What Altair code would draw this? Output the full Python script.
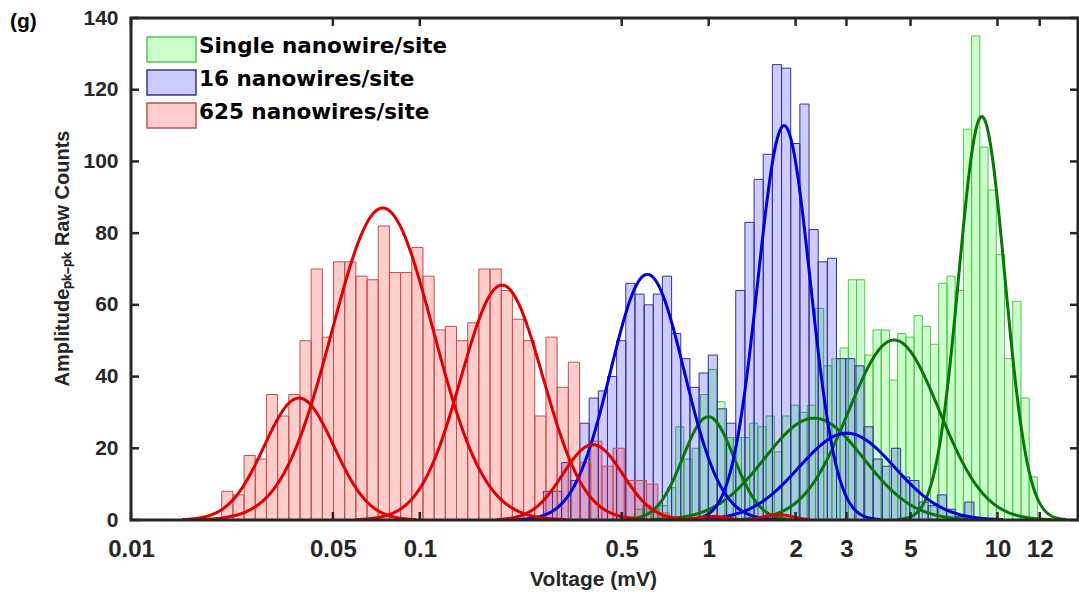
import altair as alt
import numpy as np
import pandas as pd

# ---------------- data ----------------
series_names = ["Single nanowire/site", "16 nanowires/site", "625 nanowires/site"]

# histogram bins: left edge of first bin (mV), bin width (decades), raw counts
single_first_edge = 0.519
single_bin_decades = 0.02846
single_counts = [1, 3, 4, 3, 4, 9, 26, 17, 20, 35, 42, 33, 23, 23, 23, 27, 26, 29, 19, 29,
                 32, 30, 32, 59, 43, 45, 48, 67, 67, 46, 53, 53, 39, 52, 51, 57, 54, 49, 66, 68,
                 64, 109, 135, 104, 92, 74, 45, 61, 34, 12]

sixteen_first_edge = 0.2677
sixteen_bin_decades = 0.03172
sixteen_counts = [8, 8, 16, 11, 27, 34, 36, 40, 50, 66, 63, 60, 63, 68, 52, 45, 37, 41, 46, 31,
                  27, 64, 83, 95, 102, 127, 126, 105, 116, 81, 72, 73, 45, 45, 43, 26, 17, 15, 20, 12,
                  11, 5, 4, 7, 3, 1, 5]

n625_first_edge = 0.02061
n625_bin_decades = 0.03871
n625_counts = [8, 7, 18, 17, 35, 29, 35, 50, 70, 51, 72, 72, 68, 67, 82, 69, 69, 76, 68, 53,
               54, 50, 55, 70, 70, 64, 56, 50, 29, 51, 37, 44, 16, 22, 15, 20, 11, 11, 10, 2, 1]

# Gaussian fits in log10(V): (centre mV, sigma in decades, peak count)
single_fits = [(0.998, 0.0883, 28.8), (2.317, 0.171, 28.4), (4.385, 0.157, 50.2), (8.823, 0.0796, 112.5)]
sixteen_fits = [(0.6135, 0.1274, 68.5), (1.824, 0.0907, 110.0), (3.008, 0.166, 24.2)]
n625_fits = [(0.03817, 0.1205, 34.0), (0.0744, 0.1755, 87.0), (0.1926, 0.142, 65.5),
             (0.397, 0.104, 21.0), (1.03, 0.05, 1.0), (1.74, 0.05, 1.5)]

x_ticks = [0.01, 0.05, 0.1, 0.5, 1, 2, 3, 5, 10, 14]
x_tick_labels = ["0.01", "0.05", "0.1", "0.5", "1", "2", "3", "5", "10", "12"]
y_ticks = [0, 20, 40, 60, 80, 100, 120, 140]
x_domain = [0.01, 19]
y_domain = [0, 140]

# ---------------- styling ----------------
fill_colors = ["#00ff00", "#0000ff", "#ff0000"]
edge_colors = ["#4ec94e", "#33339a", "#c05050"]
legend_fills = ["#ccffcc", "#ccccff", "#ffcccc"]
curve_colors = ["#0a760a", "#0000dd", "#e00000"]
AX = "#262626"
W, H = 947, 502

# ---------------- tables ----------------
rows = []
for name, first, w, counts in [
    (series_names[0], single_first_edge, single_bin_decades, single_counts),
    (series_names[1], sixteen_first_edge, sixteen_bin_decades, sixteen_counts),
    (series_names[2], n625_first_edge, n625_bin_decades, n625_counts),
]:
    l0 = np.log10(first)
    for i, c in enumerate(counts):
        rows.append({"series": name, "x0": 10 ** (l0 + i * w), "x1": 10 ** (l0 + (i + 1) * w), "count": c})
bars_df = pd.DataFrame(rows)

grid = np.linspace(np.log10(x_domain[0]), np.log10(x_domain[1]), 1500)
crow = []
for name, fits in [(series_names[0], single_fits), (series_names[1], sixteen_fits), (series_names[2], n625_fits)]:
    for k, (c, s, a) in enumerate(fits):
        yv = a * np.exp(-0.5 * ((grid - np.log10(c)) / s) ** 2)
        for lx, v in zip(grid, yv):
            if v > 0.12:
                crow.append({"series": name, "fit": f"{name}-{k}", "x": 10 ** lx, "y": v})
curves_df = pd.DataFrame(crow)

label_expr = "".join(
    f"abs(datum.value/{v} - 1) < 1e-6 ? '{l}' : " for v, l in zip(x_ticks, x_tick_labels)
) + "''"

xscale = alt.Scale(type="log", domain=x_domain, nice=False)
yscale = alt.Scale(domain=y_domain, nice=False, zero=True)

xaxis = alt.Axis(
    values=x_ticks, labelExpr=label_expr, ticks=False, domain=False, grid=False,
    labelFont="Liberation Sans", labelFontSize=24, labelFontWeight="bold", labelColor=AX,
    labelPadding=17, labelFlush=False, labelOverlap=False,
    title="Voltage (mV)", titleFont="Liberation Sans", titleFontSize=21, titleFontWeight="bold",
    titleColor=AX, titleX=462, titleY=59, titleBaseline="middle",
)
yaxis = alt.Axis(
    values=y_ticks, ticks=False, domain=False, grid=False,
    labelFont="Liberation Sans", labelFontSize=21, labelFontWeight="bold", labelColor=AX,
    labelPadding=13,
    title="Amplitudeₚₖ₋ₚₖ Raw Counts", titleFont="Liberation Sans", titleFontSize=20,
    titleFontWeight="bold", titleColor=AX, titleX=-69, titleY=240, titleBaseline="middle",
    titleAngle=270,
)

X = lambda f: alt.X(f, type="quantitative", scale=xscale, axis=xaxis)
Y = lambda f: alt.Y(f, type="quantitative", scale=yscale, axis=yaxis)

bars = alt.Chart(bars_df).mark_rect(fillOpacity=0.2, strokeWidth=1, clip=True).encode(
    x=X("x0"), x2="x1", y=Y("count"), y2=alt.datum(0),
    fill=alt.Fill("series:N", scale=alt.Scale(domain=series_names, range=fill_colors), legend=None),
    stroke=alt.Stroke("series:N", scale=alt.Scale(domain=series_names, range=edge_colors), legend=None),
)

curves = alt.Chart(curves_df).mark_line(strokeWidth=3, clip=True).encode(
    x=X("x"), y=Y("y"), detail="fit:N",
    color=alt.Color("series:N", scale=alt.Scale(domain=series_names, range=curve_colors), legend=None),
)

one = pd.DataFrame({"a": [0]})
frame = alt.Chart(one).mark_rect(fillOpacity=0, stroke=AX, strokeWidth=3).encode(
    x=alt.value(0), x2=alt.value(W), y=alt.value(0), y2=alt.value(H)
)

xt = pd.DataFrame({"v": x_ticks})
yt = pd.DataFrame({"v": y_ticks})
tick_style = dict(color=AX, strokeWidth=2.5)
t_bottom = alt.Chart(xt).mark_rule(**tick_style).encode(x=X("v"), y=alt.value(H), y2=alt.value(H - 8))
t_top = alt.Chart(xt).mark_rule(**tick_style).encode(x=X("v"), y=alt.value(0), y2=alt.value(8))
t_left = alt.Chart(yt).mark_rule(**tick_style).encode(y=Y("v"), x=alt.value(0), x2=alt.value(8))
t_right = alt.Chart(yt).mark_rule(**tick_style).encode(y=Y("v"), x=alt.value(W - 8), x2=alt.value(W))

legend_layers = []
for i, name in enumerate(series_names):
    d = pd.DataFrame({"name": [name]})
    legend_layers.append(
        alt.Chart(d).mark_rect(fill=legend_fills[i], stroke=edge_colors[i], strokeWidth=1.5).encode(
            x=alt.value(16), x2=alt.value(65), y=alt.value(19 + 33 * i), y2=alt.value(44 + 33 * i)
        )
    )
    legend_layers.append(
        alt.Chart(d).mark_text(align="left", baseline="alphabetic", font="DejaVu Sans",
                               fontSize=21.5, fontWeight="bold", color="#000000").encode(
            x=alt.value(68), y=alt.value(35 + 33 * i), text="name:N"
        )
    )

panel_label = alt.Chart(pd.DataFrame({"t": ["(g)"]})).mark_text(
    align="left", baseline="alphabetic", font="Liberation Sans", fontSize=21,
    fontWeight="bold", color="#000000"
).encode(x=alt.value(-121), y=alt.value(10), text="t:N")

chart = alt.layer(
    bars, curves, t_bottom, t_top, t_left, t_right, frame, *legend_layers, panel_label
).properties(
    width=W, height=H,
    autosize=alt.AutoSizeParams(type="none"),
    padding={"left": 131, "top": 18, "right": 1, "bottom": 74},
    background="white",
).configure_view(strokeWidth=0)

chart.save("out.html", embed_options={"renderer": "svg", "actions": False})
